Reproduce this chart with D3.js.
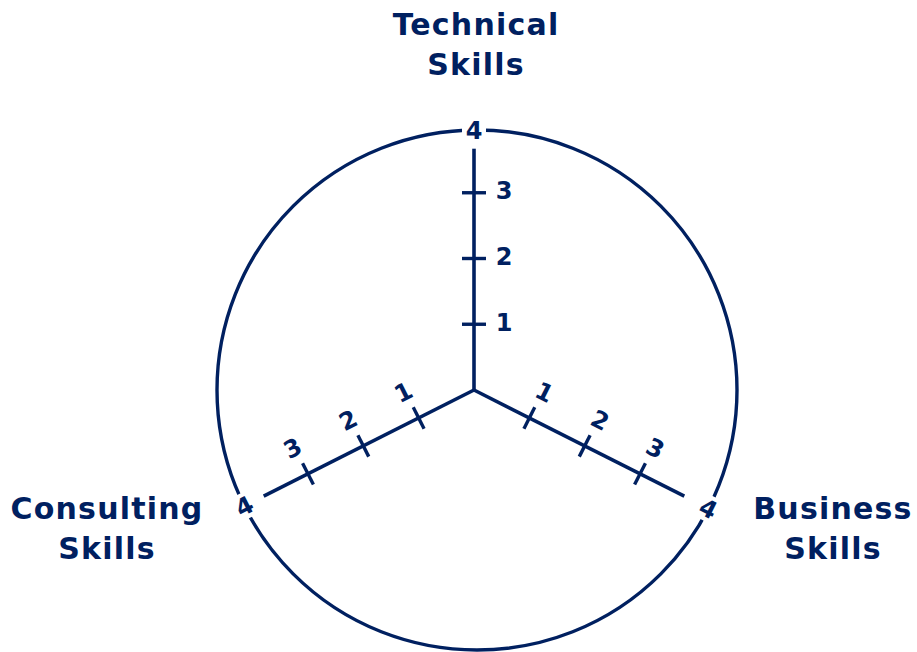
<!DOCTYPE html>
<html>
<head>
<meta charset="utf-8">
<script src="https://cdn.jsdelivr.net/npm/d3@7"></script>
<style>
  body { margin: 0; background: #fff; }
  svg { display: block; }
  text { font-family: "DejaVu Sans", Verdana, sans-serif; font-weight: bold; fill: #002060; }
</style>
</head>
<body>
<svg width="917" height="652"></svg>
<script>
// skill axes (name split into lines), direction in degrees, unit length
var axisNames = [["Technical", "Skills"], ["Business", "Skills"], ["Consulting", "Skills"]];
var axisAngles = [-90, 26.8, 153.2];
var axisLengths = [263, 248, 248];      // pixel length of value 4
var axisEnds = [3.67, 3.8, 3.8];        // where the drawn line stops
var tickValues = [1, 2, 3];
var maxValue = 4;

var svg = d3.select("svg"),
    color = "#002060",
    cx = 474, cy = 390,
    circleX = 477, circleR = 260;

// titles placed by hand around the ring
var titlePos = [[476, 35], [833, 519], [107, 519]];

var g = svg.append("g");

g.append("circle")
  .attr("cx", circleX)
  .attr("cy", cy)
  .attr("r", circleR)
  .attr("fill", "none")
  .attr("stroke", color)
  .attr("stroke-width", 3.4);

axisAngles.forEach(function(angle, i) {
  var rad = angle * Math.PI / 180,
      dx = Math.cos(rad), dy = Math.sin(rad),
      nx = 1, ny = 0;   // normal pointing to the label side
  if (i == 1) { nx = Math.abs(dy); ny = -Math.abs(dx); }
  if (i == 2) { nx = -Math.abs(dy); ny = -Math.abs(dx); }

  var r = d3.scaleLinear().domain([0, maxValue]).range([0, axisLengths[i]]);
  var rot = i == 0 ? 0 : (i == 1 ? angle : angle - 180);

  g.append("line")
    .attr("x1", cx).attr("y1", cy)
    .attr("x2", cx + dx * r(axisEnds[i]))
    .attr("y2", cy + dy * r(axisEnds[i]))
    .attr("stroke", color)
    .attr("stroke-width", 3.6);

  var ticks = g.selectAll(".tick" + i)
    .data(tickValues)
    .enter().append("g")
    .attr("class", "tick" + i)
    .attr("transform", function(d) {
      return "translate(" + (cx + dx * r(d)) + "," + (cy + dy * r(d)) + ")";
    });

  ticks.append("line")
    .attr("x1", -dy * 12).attr("y1", dx * 12)
    .attr("x2", dy * 12).attr("y2", -dx * 12)
    .attr("stroke", color)
    .attr("stroke-width", 3.4);

  ticks.append("text")
    .attr("transform", "translate(" + (nx * 30 + dx * 2) + "," + (ny * 30 + dy * 2) + ") rotate(" + rot + ")")
    .attr("text-anchor", "middle")
    .attr("dy", "0.36em")
    .attr("font-size", "24px")
    .text(function(d) { return d; });

  // value 4 sits on the ring, find where the axis ray hits it
  var ox = cx - circleX,
      b = ox * dx,
      t = -b + Math.sqrt(b * b - (ox * ox - circleR * circleR));
  var px = cx + dx * t, py = cy + dy * t;

  var four = g.append("g")
    .attr("transform", "translate(" + px + "," + py + ") rotate(" + rot + ")");
  four.append("rect")
    .attr("x", -12).attr("y", -13)
    .attr("width", 24).attr("height", 26)
    .attr("fill", "#fff");
  four.append("text")
    .attr("text-anchor", "middle")
    .attr("dy", "0.36em")
    .attr("font-size", "24px")
    .text(maxValue);

  var title = g.append("text")
    .attr("x", titlePos[i][0])
    .attr("y", titlePos[i][1])
    .attr("text-anchor", "middle")
    .attr("font-size", "30px")
    .attr("letter-spacing", "1.2px");
  title.selectAll("tspan")
    .data(axisNames[i])
    .enter().append("tspan")
    .attr("x", titlePos[i][0])
    .attr("dy", function(d, j) { return j == 0 ? 0 : 40; })
    .text(function(d) { return d; });
});
</script>
</body>
</html>
